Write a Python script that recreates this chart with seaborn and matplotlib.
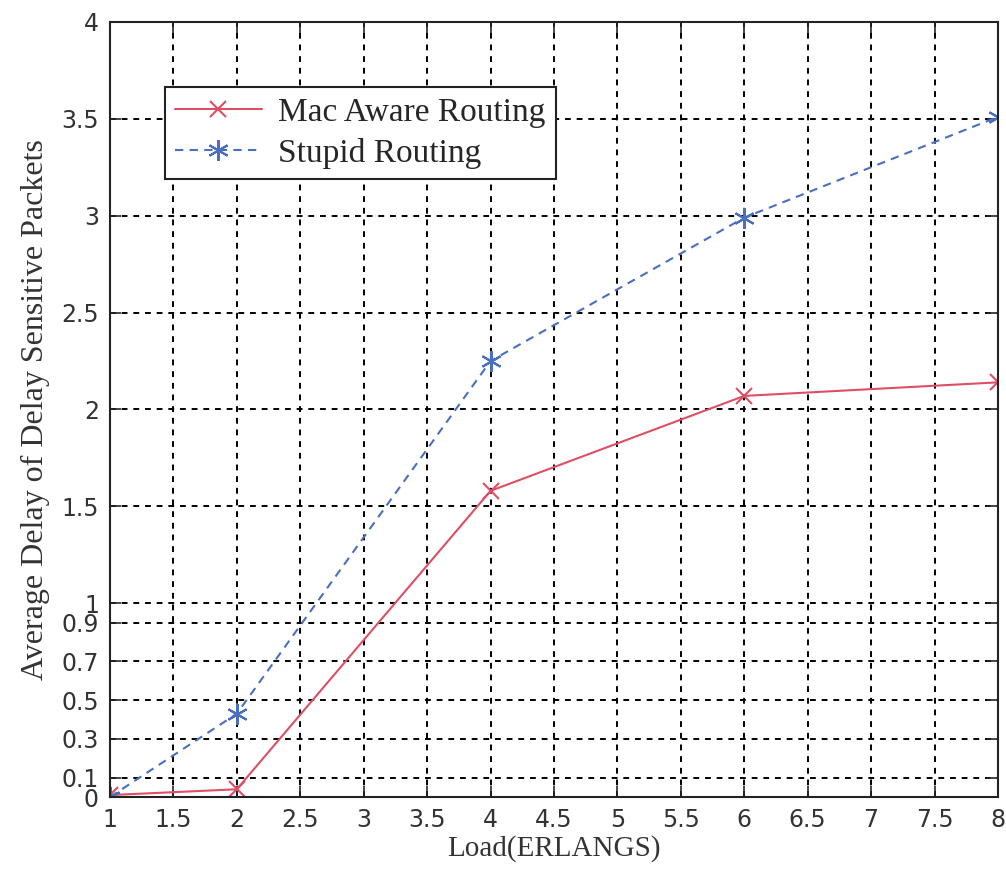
import matplotlib
matplotlib.use("Agg")
import matplotlib.pyplot as plt
import pandas as pd
import seaborn as sns

load = [1, 2, 4, 6, 8]
mac_aware = [0.01, 0.04, 1.58, 2.07, 2.14]
stupid = [0.0, 0.43, 2.25, 2.99, 3.51]
series_names = ["Mac Aware Routing", "Stupid Routing"]

x_ticks = [1, 1.5, 2, 2.5, 3, 3.5, 4, 4.5, 5, 5.5, 6, 6.5, 7, 7.5, 8]
y_ticks = [0, 0.1, 0.3, 0.5, 0.7, 0.9, 1, 1.5, 2, 2.5, 3, 3.5, 4]

RED = "#de4f66"
BLUE = "#4a6fc0"


def main():
    sns.set_style("ticks")
    plt.rcParams["font.family"] = ["Liberation Serif", "DejaVu Serif"]

    df = pd.DataFrame({"load": load * 2,
                       "delay": mac_aware + stupid,
                       "series": [series_names[0]] * len(load) + [series_names[1]] * len(load)})

    fig = plt.figure(figsize=(10.06, 8.77), dpi=100)
    ax = fig.add_axes([0.1093, 0.0912, 0.8827, 0.8838])

    sns.lineplot(data=df[df.series == series_names[0]], x="load", y="delay", ax=ax,
                 color=RED, linestyle="-", linewidth=1.5, marker="x",
                 markersize=11, markeredgewidth=1.5, markeredgecolor=RED,
                 label=series_names[0])
    sns.lineplot(data=df[df.series == series_names[1]], x="load", y="delay", ax=ax,
                 color=BLUE, linestyle=(0, (4, 3)), linewidth=1.5, marker=(6, 2, 0),
                 markersize=15, markeredgewidth=1.5, markeredgecolor=BLUE,
                 label=series_names[1])

    ax.set_xlim(1, 8)
    ax.set_ylim(0, 4)
    ax.set_xticks(x_ticks)
    ax.set_xticklabels([f"{t:g}" for t in x_ticks], fontfamily="DejaVu Sans",
                       fontsize=17, color="#333333")
    ax.set_yticks(y_ticks)
    ax.set_yticklabels([f"{t:g}" for t in y_ticks], fontfamily="DejaVu Sans",
                       fontsize=17, color="#333333")
    ax.tick_params(direction="in", length=8, width=1.2, top=True, right=True, pad=8)

    ax.grid(True, color="black", linestyle=(0, (3, 3)), linewidth=1.4)
    for s in ax.spines.values():
        s.set_visible(True)
        s.set_linewidth(1.5)
        s.set_color("#222222")

    ax.set_xlabel("Load(ERLANGS)", fontsize=21, color="#333333", labelpad=2)
    ax.set_ylabel("Average Delay of Delay Sensitive Packets", fontsize=23,
                  color="#333333", labelpad=8)

    leg = ax.legend(loc="upper left", bbox_to_anchor=(0.062, 0.916), borderaxespad=0,
                    fancybox=False, framealpha=1, edgecolor="#222222",
                    fontsize=24, handlelength=2.6, handletextpad=0.5,
                    borderpad=0.3, labelspacing=0.3)
    leg.get_frame().set_linewidth(1.5)

    fig.savefig("out.png", dpi=100)
    plt.close(fig)


if __name__ == "__main__":
    main()
